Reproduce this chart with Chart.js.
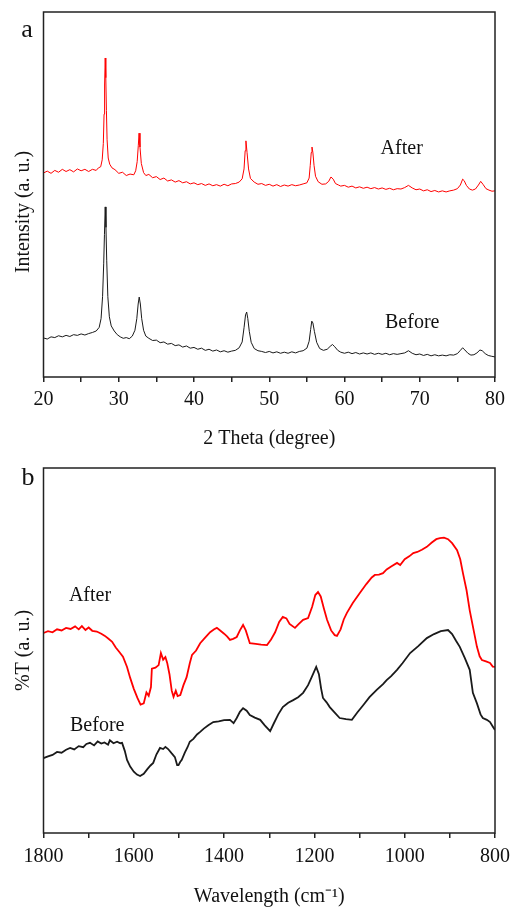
<!DOCTYPE html>
<html lang="en">
<head>
    <meta charset="UTF-8">
    <title>XRD and FTIR</title>
    <script src="https://cdn.jsdelivr.net/npm/chart.js"></script>
    <style>
    body, html {
        margin: 0;
        padding: 0;
        background: white;
        overflow: hidden;
    }
    canvas {
        display: block;
    }
    </style>
</head>
<body>
<canvas id="xrd" width="511" height="450"></canvas>
<canvas id="ftir" width="511" height="457"></canvas>
<script>
    // panel a: XRD, [2theta, intensity]
    const xrdAfter = [
        [20,55.9],[20.5,56.4],[21,55.8],[21.5,56.6],[22,56.1],[22.5,56.9],[23,56.3],[23.5,56.8],[24,56.2],[24.5,57.0],
        [25,56.5],[25.5,56.9],[26,56.3],[26.5,56.9],[27,56.6],[27.3,57.3],[27.6,57.6],[27.8,59.5],[27.95,64],[28.05,72],
        [28.12,80],[28.2,87.4],[28.28,82],[28.36,73],[28.45,65],[28.6,60],[28.8,58.3],[29.1,57.3],[29.5,56.8],[30,55.8],
        [30.5,56.1],[31,55.2],[31.5,55.6],[32,55.4],[32.25,56.5],[32.45,59],[32.6,63.5],[32.7,66.8],[32.82,63],[33.0,58.5],
        [33.3,56.0],[33.6,55.2],[34,55.5],[34.5,54.6],[35,54.9],[35.5,54.1],[36,54.5],[36.5,53.7],[37,54.0],[37.5,53.4],
        [38,53.8],[38.5,53.2],[39,53.5],[39.5,52.9],[40,53.2],[40.5,52.7],[41,53.0],[41.5,52.5],[42,52.9],[42.5,52.4],
        [43,52.7],[43.5,52.3],[44,52.8],[44.5,52.4],[45,52.9],[45.5,53.0],[46,53.4],[46.4,54.3],[46.65,57],[46.8,62],
        [46.9,64.7],[47.05,61.5],[47.25,57],[47.5,54.4],[48,53.4],[48.5,52.8],[49,53.0],[49.5,52.5],[50,52.8],[50.5,52.3],
        [51,52.7],[51.5,52.2],[52,52.6],[52.5,52.3],[53,52.7],[53.5,52.4],[54,52.6],[54.5,52.9],[55,53.2],[55.3,54.5],
        [55.45,58],[55.58,61.5],[55.68,63],[55.8,61.5],[55.95,58],[56.15,55],[56.5,53.5],[57,52.8],[57.5,52.9],[57.9,53.6],
        [58.2,54.8],[58.5,54.2],[58.8,53.0],[59.2,52.6],[59.5,52.3],[60,52.5],[60.5,52.0],[61,52.3],[61.5,51.8],[62,52.1],
        [62.5,51.7],[63,52.0],[63.5,51.6],[64,51.9],[64.5,51.5],[65,51.8],[65.5,51.4],[66,51.7],[66.5,51.3],[67,51.6],
        [67.5,51.5],[68,51.9],[68.5,52.5],[69,51.8],[69.5,51.3],[70,51.5],[70.5,51.0],[71,51.3],[71.5,50.8],[72,51.1],
        [72.5,50.7],[73,51.0],[73.5,50.7],[74,51.0],[74.5,51.2],[75,51.6],[75.4,52.6],[75.7,54.2],[75.9,53.8],[76.2,52.5],
        [76.6,51.5],[77,51.2],[77.4,51.5],[77.8,52.6],[78.1,53.6],[78.4,52.8],[78.8,51.6],[79.2,51.2],[79.6,50.9],[80,51.0]
    ];
    const xrdBefore = [
        [20,10.7],[20.5,10.4],[21,11.0],[21.5,10.8],[22,11.3],[22.5,11.0],[23,11.4],[23.5,11.1],[24,11.6],[24.5,11.4],
        [25,11.8],[25.5,11.5],[26,11.9],[26.5,12.2],[27,12.6],[27.4,13.6],[27.65,16],[27.85,22],[28.0,31],[28.1,39],
        [28.2,46.6],[28.3,41],[28.4,32],[28.55,22],[28.75,16.5],[29.0,14.0],[29.4,12.6],[29.8,11.6],[30.2,11.0],[30.6,10.6],
        [31,10.8],[31.4,10.5],[31.8,11.2],[32.15,12.8],[32.4,16],[32.58,20],[32.72,21.9],[32.87,20],[33.05,16],[33.3,12.8],
        [33.6,11.2],[34,10.6],[34.5,10.0],[35,10.1],[35.5,9.4],[36,9.6],[36.5,9.0],[37,9.2],[37.5,8.6],[38,8.8],
        [38.5,8.2],[39,8.5],[39.5,7.9],[40,8.1],[40.5,7.6],[41,7.9],[41.5,7.3],[42,7.6],[42.5,7.1],[43,7.4],
        [43.5,6.9],[44,7.2],[44.5,6.8],[45,7.1],[45.5,7.3],[46,8.0],[46.4,9.6],[46.65,13.5],[46.85,17],[47.0,17.8],
        [47.15,16],[47.35,12.5],[47.6,9.5],[48,7.8],[48.5,7.2],[49,7.0],[49.5,6.7],[50,7.0],[50.5,6.6],[51,6.9],
        [51.5,6.5],[52,6.8],[52.5,6.5],[53,6.9],[53.5,6.6],[54,7.0],[54.5,7.2],[55,7.9],[55.3,9.8],[55.5,13],
        [55.65,15.3],[55.8,14.8],[56.0,12.5],[56.3,9.5],[56.7,7.8],[57.2,7.3],[57.7,7.6],[58.1,8.4],[58.4,8.9],[58.7,8.3],
        [59.1,7.3],[59.5,6.8],[60,6.5],[60.5,6.8],[61,6.4],[61.5,6.7],[62,6.3],[62.5,6.6],[63,6.3],[63.5,6.6],
        [64,6.2],[64.5,6.5],[65,6.2],[65.5,6.5],[66,6.1],[66.5,6.4],[67,6.2],[67.5,6.4],[68,6.6],[68.5,7.2],
        [69,6.5],[69.5,6.1],[70,6.3],[70.5,5.9],[71,6.2],[71.5,5.8],[72,6.1],[72.5,5.8],[73,6.0],[73.5,5.8],
        [74,6.1],[74.5,6.0],[75,6.4],[75.4,7.3],[75.7,8.0],[76.0,7.4],[76.4,6.5],[76.8,6.0],[77.2,6.1],[77.6,6.6],
        [78.0,7.4],[78.3,7.2],[78.7,6.4],[79.1,5.9],[79.5,5.7],[80,5.5]
    ];

    // panel b: FTIR, [wavenumber, %T]
    const ftirAfter = [
        [1800,54.8],[1790,55.3],[1780,55.0],[1770,55.8],[1760,55.5],[1750,56.2],[1740,55.9],[1730,56.6],[1722,55.8],[1715,56.7],
        [1707,55.6],[1700,56.3],[1692,55.4],[1682,55.2],[1672,54.6],[1664,54.0],[1656,53.2],[1648,52.4],[1640,50.8],[1632,49.6],
        [1624,48.3],[1615,45.5],[1608,42.5],[1600,39.5],[1592,37.0],[1585,35.2],[1578,35.5],[1572,38.5],[1567,37.6],[1562,40.0],
        [1560,45.0],[1552,45.3],[1545,46.0],[1540,49.3],[1535,47.5],[1530,48.2],[1526,46.6],[1521,43.5],[1516,39.0],[1512,37.3],
        [1507,39.0],[1503,37.5],[1497,37.8],[1490,40.5],[1483,42.7],[1476,46.5],[1471,48.8],[1462,50.0],[1453,52.0],[1442,53.5],
        [1431,55.0],[1422,55.8],[1416,56.2],[1408,55.4],[1400,54.6],[1393,53.8],[1387,52.9],[1380,53.2],[1372,53.7],[1365,55.5],
        [1358,57.0],[1352,55.5],[1343,52.0],[1330,51.8],[1318,51.6],[1305,51.5],[1296,53.0],[1287,55.0],[1278,57.8],[1270,59.2],
        [1262,58.8],[1255,57.3],[1243,56.2],[1235,57.2],[1225,58.4],[1214,58.9],[1205,62.0],[1198,65.2],[1192,66.0],[1186,64.8],
        [1179,61.5],[1172,58.4],[1163,55.5],[1155,54.2],[1150,54.0],[1142,55.8],[1135,58.5],[1128,60.3],[1115,63.0],[1099,65.8],
        [1085,68.2],[1073,70.0],[1066,70.7],[1057,70.8],[1048,71.2],[1040,72.2],[1030,73.0],[1017,74.0],[1010,73.4],[1000,75.0],
        [990,75.8],[981,76.7],[972,77.0],[962,77.6],[951,78.4],[940,79.6],[930,80.5],[922,80.8],[913,80.9],[904,80.5],
        [895,79.4],[884,77.5],[877,75.0],[871,71.2],[863,66.5],[856,61.0],[848,56.0],[840,51.0],[834,48.4],[829,47.4],
        [820,47.0],[811,46.6],[805,45.6],[800,45.5]
    ];
    const ftirBefore = [
        [1800,20.5],[1790,21.0],[1780,21.4],[1770,22.2],[1760,22.0],[1750,22.8],[1741,23.3],[1732,22.9],[1722,23.8],[1712,23.5],
        [1705,24.4],[1697,24.7],[1688,24.0],[1680,25.1],[1672,24.5],[1665,24.8],[1657,24.2],[1653,25.4],[1645,24.6],[1637,25.0],
        [1630,24.6],[1626,24.7],[1620,22.5],[1615,20.0],[1608,18.2],[1600,16.8],[1593,16.0],[1586,15.6],[1578,16.2],[1570,17.5],
        [1563,18.5],[1557,19.2],[1550,21.5],[1542,23.3],[1535,23.0],[1530,23.6],[1524,23.0],[1516,21.8],[1509,20.8],[1504,18.6],
        [1501,18.6],[1497,19.5],[1494,20.0],[1487,22.0],[1481,23.5],[1476,25.0],[1468,25.8],[1460,27.0],[1453,27.7],[1445,28.6],
        [1435,29.5],[1424,30.4],[1412,30.6],[1400,30.9],[1387,31.0],[1379,30.1],[1372,31.5],[1365,33.2],[1358,34.2],[1350,33.5],
        [1343,32.3],[1332,31.6],[1320,31.0],[1310,29.5],[1298,27.9],[1290,30.0],[1280,32.5],[1270,34.5],[1258,35.7],[1247,36.4],
        [1236,37.2],[1225,38.4],[1214,40.5],[1205,43.0],[1196,45.5],[1190,43.5],[1185,39.5],[1181,37.0],[1173,35.8],[1166,34.5],
        [1155,33.0],[1144,31.5],[1130,31.2],[1117,31.0],[1105,33.0],[1092,35.0],[1078,37.2],[1062,39.2],[1048,40.8],[1040,41.9],
        [1030,43.0],[1017,44.7],[1005,46.5],[988,49.3],[970,51.2],[951,53.4],[935,54.5],[920,55.3],[904,55.6],[895,54.5],
        [886,52.6],[878,51.0],[867,48.0],[856,44.7],[849,38.4],[840,35.5],[832,32.5],[827,31.5],[818,31.0],[811,30.4],
        [805,29.2],[800,28.2]
    ];

    const serif = "'Liberation Serif', 'Times New Roman', serif";
    const ink = '#222';

    function toPoints(arr) {
        return arr.map(p => ({x: p[0], y: p[1]}));
    }

    // box around the plot area + panel letter + curve labels
    const decor = {
        id: 'decor',
        afterDraw(chart, args, opts) {
            const ctx = chart.ctx;
            const a = chart.chartArea;
            ctx.save();
            ctx.strokeStyle = ink;
            ctx.lineWidth = 1.5;
            ctx.strokeRect(a.left, a.top, a.right - a.left, a.bottom - a.top);
            ctx.fillStyle = '#111';
            ctx.textAlign = 'center';
            ctx.textBaseline = 'alphabetic';
            ctx.font = '26px ' + serif;
            ctx.fillText(opts.letter, opts.letterX, opts.letterY);
            ctx.font = '20px ' + serif;
            const xs = chart.scales.x, ys = chart.scales.y;
            opts.labels.forEach(l => {
                ctx.fillText(l.text, xs.getPixelForValue(l.x), ys.getPixelForValue(l.y));
            });
            ctx.restore();
        }
    };

    function makeChart(id, datasets, xOpts, yTitle, pad, decorOpts) {
        return new Chart(document.getElementById(id), {
            type: 'line',
            data: {datasets: datasets},
            plugins: [decor],
            options: {
                responsive: false,
                animation: false,
                layout: {padding: pad},
                plugins: {
                    legend: {display: false},
                    tooltip: {enabled: false},
                    decor: decorOpts
                },
                elements: {point: {radius: 0}, line: {tension: 0}},
                scales: {
                    x: Object.assign({
                        type: 'linear',
                        border: {display: false},
                        grid: {drawOnChartArea: false, drawTicks: true, tickLength: 5, color: ink, lineWidth: 1.5},
                        // let the end labels hang into the padding
                        afterFit: s => { s.paddingRight = 0; s.paddingLeft = 0; }
                    }, xOpts),
                    y: {
                        min: 0,
                        max: 100,
                        border: {display: false},
                        grid: {display: false},
                        ticks: {display: false},
                        title: {
                            display: true,
                            text: yTitle,
                            color: '#111',
                            font: {family: serif, size: 20},
                            padding: {top: 1, bottom: 0}
                        }
                    }
                }
            }
        });
    }

    makeChart('xrd', [
        {data: toPoints(xrdAfter), borderColor: '#ff0000', borderWidth: 1},
        {data: toPoints(xrdBefore), borderColor: '#1a1a1a', borderWidth: 1}
    ], {
        min: 20,
        max: 80,
        ticks: {
            stepSize: 5,
            padding: 8,
            maxRotation: 0,
            autoSkip: false,
            color: '#111',
            font: {family: serif, size: 20, lineHeight: 1},
            callback: v => v % 10 === 0 ? v : ''
        },
        title: {
            display: true,
            text: '2 Theta (degree)',
            color: '#111',
            font: {family: serif, size: 20, lineHeight: 1},
            padding: {top: 11, bottom: 0}
        }
    }, 'Intensity (a. u.)\u00A0\u00A0\u00A0\u00A0\u00A0\u00A0\u00A0', {top: 12, right: 16, bottom: 1, left: 10.5}, {
        letter: 'a', letterX: 27, letterY: 37,
        labels: [{text: 'After', x: 67.6, y: 61.1}, {text: 'Before', x: 69.0, y: 13.4}]
    });

    makeChart('ftir', [
        {data: toPoints(ftirAfter), borderColor: '#ff0000', borderWidth: 1.8},
        {data: toPoints(ftirBefore), borderColor: '#1a1a1a', borderWidth: 1.8}
    ], {
        min: 800,
        max: 1800,
        reverse: true,
        ticks: {
            stepSize: 100,
            padding: 9,
            maxRotation: 0,
            autoSkip: false,
            color: '#111',
            font: {family: serif, size: 20, lineHeight: 1},
            callback: v => v % 200 === 0 ? v : ''
        },
        title: {
            display: true,
            text: 'Wavelength (cm\u207B\u00B9)',
            color: '#111',
            font: {family: serif, size: 20, lineHeight: 1},
            padding: {top: 11, bottom: 0}
        }
    }, '%T (a. u.)', {top: 18, right: 16, bottom: 0, left: 10.5}, {
        letter: 'b', letterX: 28, letterY: 35,
        labels: [{text: 'After', x: 1697, y: 63.6}, {text: 'Before', x: 1681, y: 28.0}]
    });
</script>
</body>
</html>
